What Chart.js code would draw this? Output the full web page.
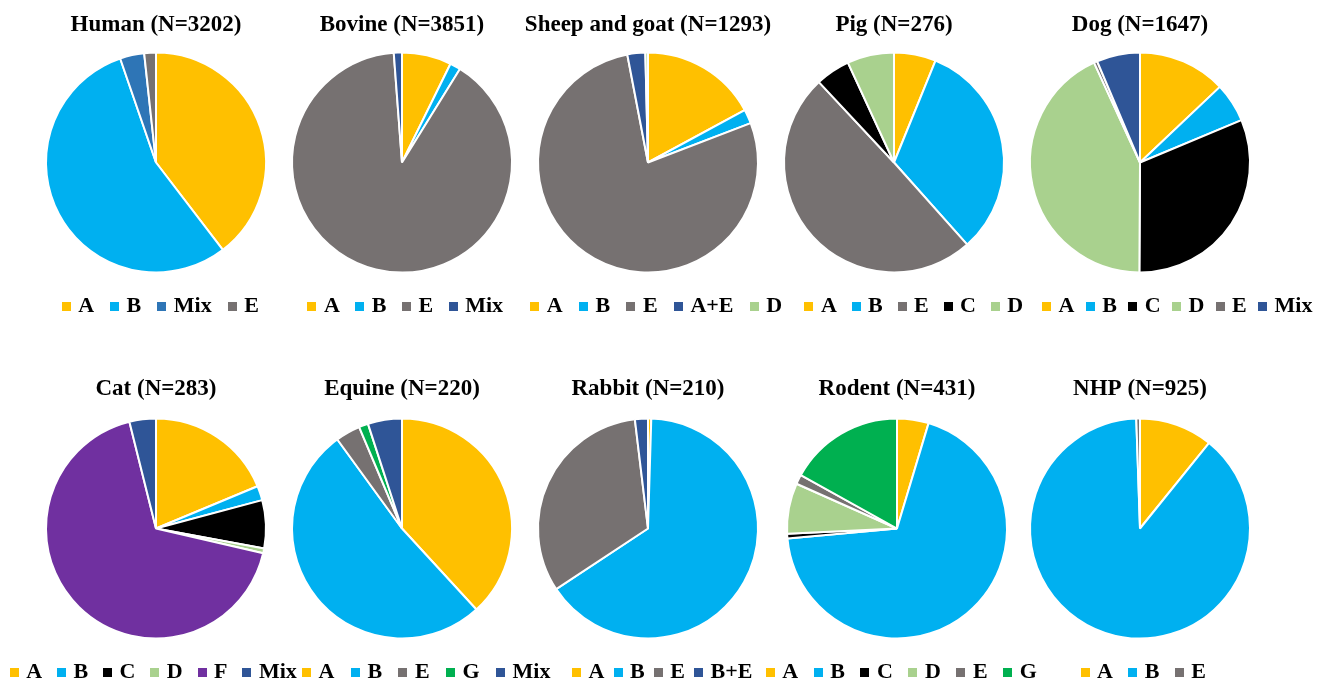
<!DOCTYPE html>
<html>
<head>
<meta charset="utf-8">
<title>Genotype distribution by host species</title>
<script src="https://cdn.jsdelivr.net/npm/chart.js@4/dist/chart.umd.min.js"></script>
<style>
  html, body { margin: 0; padding: 0; background: #ffffff; overflow: hidden; }
  #stage { position: relative; width: 1324px; height: 682px; overflow: hidden; background: #ffffff; }
  #stage canvas { position: absolute; }
</style>
</head>
<body>
<div id="stage"></div>
<script>
// Host species and sample sizes
const speciesNames = ['Human', 'Bovine', 'Sheep and goat', 'Pig', 'Dog', 'Cat', 'Equine', 'Rabbit', 'Rodent', 'NHP'];
const sampleSizes = [3202, 3851, 1293, 276, 1647, 283, 220, 210, 431, 925];

// Genotype / assemblage counts per host
const humanTypes = ['A', 'B', 'Mix', 'E'];
const humanCounts = [1268, 1765, 114, 55];

const bovineTypes = ['A', 'B', 'E', 'Mix'];
const bovineCounts = [280, 60, 3465, 46];

const sheepGoatTypes = ['A', 'B', 'E', 'A+E', 'D'];
const sheepGoatCounts = [221, 27, 1006, 34, 5];

const pigTypes = ['A', 'B', 'E', 'C', 'D'];
const pigCounts = [17, 89, 137, 14, 19];

const dogTypes = ['A', 'B', 'C', 'D', 'E', 'Mix'];
const dogCounts = [213, 95, 517, 709, 8, 105];

const catTypes = ['A', 'B', 'C', 'D', 'F', 'Mix'];
const catCounts = [53, 6, 20, 2, 191, 11];

const equineTypes = ['A', 'B', 'E', 'G', 'Mix'];
const equineCounts = [84, 114, 8, 3, 11];

const rabbitTypes = ['A', 'B', 'E', 'B+E'];
const rabbitCounts = [1, 137, 68, 4];

const rodentTypes = ['A', 'B', 'C', 'D', 'E', 'G'];
const rodentCounts = [20, 297, 3, 32, 6, 73];

const nhpTypes = ['A', 'B', 'E'];
const nhpCounts = [100, 820, 5];

const typesByPanel = [humanTypes, bovineTypes, sheepGoatTypes, pigTypes, dogTypes,
                      catTypes, equineTypes, rabbitTypes, rodentTypes, nhpTypes];
const countsByPanel = [humanCounts, bovineCounts, sheepGoatCounts, pigCounts, dogCounts,
                       catCounts, equineCounts, rabbitCounts, rodentCounts, nhpCounts];

// Colours
const typeColors = {
  'A': '#FFC000', 'B': '#00B0F0', 'C': '#000000', 'D': '#A9D18E',
  'E': '#767171', 'F': '#7030A0', 'G': '#00B050',
  'Mix': '#2F5597', 'A+E': '#2F5597', 'B+E': '#2F5597'
};
const colorOverrides = [{ 'Mix': '#2E75B6' }, {}, {}, {}, {}, {}, {}, {}, {}, {}];

// Panel placement
const pieCentersX = [156, 402, 648, 894, 1140, 156, 402, 648, 897, 1140];
const legendShiftsX = [6, 5, 10, 21.5, 39, -1, 26, 16, 6, 5];
const legendItemGaps = [19.5, 19, 19.8, 18.3, 14.8, 18.4, 19.9, 12.6, 19.1, 18.8];
const rowTops = [0, 366];
const rowTitleTopPad = [11, 9];
const canvasW = 360, canvasH = 327;
const pieCenterInCanvas = 162.5;

const serif = "'Liberation Serif', 'Times New Roman', serif";
const titleSize = 23, titleLineHeight = 1.2;
const legendSize = 22, swatchSize = 9, swatchSlot = 2;

// Moves a legend sideways from the pie centre after layout
const legendShiftPlugin = {
  id: 'legendShift',
  afterLayout(chart, args, opts) {
    const dx = opts.dx || 0;
    if (chart.legend && dx) {
      chart.legend.left += dx;
      chart.legend.right += dx;
    }
  }
};

// Small square colour swatch used as the legend marker
function makeSwatch(color) {
  const c = document.createElement('canvas');
  c.width = swatchSize;
  c.height = swatchSize;
  const g = c.getContext('2d');
  g.fillStyle = color;
  g.fillRect(0, 0, swatchSize, swatchSize);
  return c;
}

const stage = document.getElementById('stage');

speciesNames.forEach((name, i) => {
  const row = i < 5 ? 0 : 1;
  const canvas = document.createElement('canvas');
  canvas.width = canvasW;
  canvas.height = canvasH;
  canvas.style.width = canvasW + 'px';
  canvas.style.height = canvasH + 'px';
  canvas.style.left = (pieCentersX[i] - canvasW / 2) + 'px';
  canvas.style.top = rowTops[row] + 'px';
  stage.appendChild(canvas);

  const types = typesByPanel[i];
  const colors = types.map(t => (colorOverrides[i][t] || typeColors[t]));
  const swatches = colors.map(makeSwatch);

  // keep the pie centred between title and legend whatever the legend gap
  const gap = legendItemGaps[i];
  const legendTop = canvasH - (legendSize + gap + 10);
  const titleBottom = 2 * pieCenterInCanvas - legendTop;
  const titleBottomPad = titleBottom - rowTitleTopPad[row] - titleSize * titleLineHeight;

  new Chart(canvas, {
    type: 'pie',
    data: {
      labels: types,
      datasets: [{
        data: countsByPanel[i],
        backgroundColor: colors,
        borderColor: '#ffffff',
        borderWidth: 2,
        hoverOffset: 0
      }]
    },
    options: {
      responsive: false,
      animation: false,
      devicePixelRatio: 1,
      radius: 110,
      layout: { padding: 0 },
      plugins: {
        title: {
          display: true,
          text: name + ' (N=' + sampleSizes[i] + ')',
          color: '#000000',
          font: { family: serif, size: titleSize, weight: 'bold', lineHeight: titleLineHeight },
          padding: { top: rowTitleTopPad[row], bottom: titleBottomPad }
        },
        legend: {
          display: true,
          position: 'bottom',
          align: 'center',
          labels: {
            color: '#000000',
            font: { family: serif, size: legendSize, weight: 'bold' },
            usePointStyle: true,
            pointStyleWidth: swatchSlot,
            boxHeight: swatchSize,
            padding: gap,
            generateLabels(chart) {
              const base = Chart.overrides.pie.plugins.legend.labels.generateLabels(chart);
              return base.map((item, k) => Object.assign(item, { lineWidth: 0, pointStyle: swatches[k] }));
            }
          }
        },
        tooltip: { enabled: false },
        legendShift: { dx: legendShiftsX[i] }
      }
    },
    plugins: [legendShiftPlugin]
  });
});
</script>
</body>
</html>
